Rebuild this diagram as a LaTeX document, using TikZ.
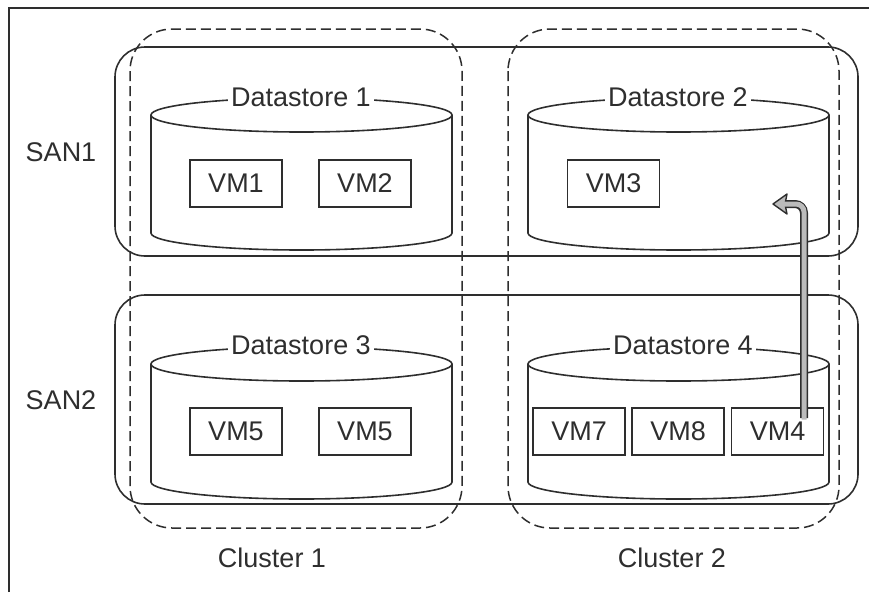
\documentclass[tikz,border=0pt]{standalone}
\usepackage{fontspec}
\setmainfont{Liberation Sans}
\definecolor{ink}{HTML}{2E2E2E}
\definecolor{arrowfill}{HTML}{BBBBBB}
\tikzset{
  lbl/.style={font=\fontsize{27}{30}\selectfont, text=ink, inner sep=1pt},
  dslbl/.style={lbl, fill=white, inner xsep=3pt, inner ysep=0pt},
  vmbox/.style={draw=ink, line width=1.6pt, minimum width=92pt, minimum height=47pt, inner sep=0pt, font=\fontsize{27}{30}\selectfont, text=ink},
  sanbox/.style={draw=ink, line width=1.6pt, rounded corners=30pt},
  clbox/.style={draw=ink, line width=1.5pt, rounded corners=42pt, dash pattern=on 10pt off 5pt},
  cyl/.style={draw=ink, line width=1.6pt},
}
% cylinder: #1 left x, #2 right x, #3 top y, #4 bottom y
\newcommand{\mycyl}[4]{%
  \draw[cyl] ({(#1+#2)/2},#3) ellipse [x radius={(#2-#1)/2}, y radius=17];
  \draw[cyl] (#1,#3) -- (#1,#4) arc [start angle=180, end angle=360, x radius={(#2-#1)/2}, y radius=-17] -- (#2,#3);
}
\begin{document}
\begin{tikzpicture}[x=1pt,y=-1pt]
\useasboundingbox (0,0) rectangle (869,592);
% frame
\draw[ink, line width=1.8pt] (9,592) -- (9,8) -- (869,8);
% SAN boxes
\draw[sanbox] (115,47) rectangle (858,256);
\draw[sanbox] (115,295) rectangle (858,504);
% Clusters
\draw[clbox] (130,29) rectangle (462,528);
\draw[clbox] (508,29) rectangle (839,528);
% cylinders
\mycyl{151}{452}{115}{233}
\mycyl{528}{829}{115}{233}
\mycyl{151}{452}{364}{482}
\mycyl{528}{829}{364}{482}
% datastore labels
\node[dslbl] (ds1) at (301,97) {Datastore 1};
\node[dslbl] (ds2) at (678,97) {Datastore 2};
\node[dslbl] (ds3) at (301,345) {Datastore 3};
\node[dslbl] (ds4) at (683,345) {Datastore 4};
% VMs
\node[vmbox] (vm1) at (236,183.5) {VM1};
\node[vmbox] (vm2) at (365,183.5) {VM2};
\node[vmbox] (vm3) at (613.5,183.5) {VM3};
\node[vmbox] (vm5a) at (236,431.5) {VM5};
\node[vmbox] (vm5b) at (365,431.5) {VM5};
\node[vmbox] (vm7) at (579,431.5) {VM7};
\node[vmbox] (vm8) at (678,431.5) {VM8};
\node[vmbox] (vm4) at (777.5,431.5) {VM4};
% side labels
\node[lbl] (san1) at (61,152) {SAN1};
\node[lbl] (san2) at (61,400) {SAN2};
\node[lbl] (cl1) at (272,558) {Cluster 1};
\node[lbl] (cl2) at (672,558) {Cluster 2};
% migration arrow
\coordinate (ab) at (804,418);
\coordinate (ac) at (804,204);
\coordinate (ae) at (786,204);
\coordinate (tip) at (773,204);
\draw[ink, line width=8pt, rounded corners=9pt] (ab) -- (ac) -- (ae);
\draw[ink, line width=1.4pt, fill=arrowfill, line join=round] (tip) -- (787,194) -- (785,204) -- (787,214) -- cycle;
\draw[arrowfill, line width=5pt, rounded corners=8pt] ([yshift=-1.5pt]ab) -- (ac) -- (784,204);
\end{tikzpicture}
\end{document}
